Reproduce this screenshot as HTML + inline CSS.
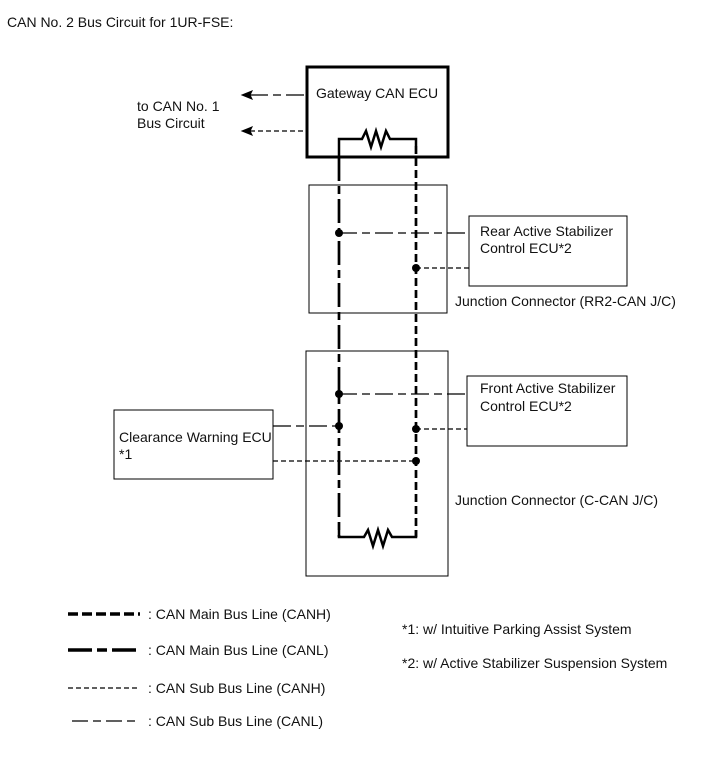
<!DOCTYPE html>
<html><head><meta charset="utf-8"><style>
html,body{margin:0;padding:0;background:#fff;}
svg{display:block;}
text{font-family:"Liberation Sans",sans-serif;font-size:14px;fill:#111;}
</style></head><body>
<svg width="713" height="782" viewBox="0 0 713 782" xmlns="http://www.w3.org/2000/svg">
<text x="7" y="27">CAN No. 2 Bus Circuit for 1UR-FSE:</text>
<!-- Gateway -->
<rect x="307" y="67" width="141" height="90" fill="none" stroke="#000" stroke-width="3"/>
<text x="316" y="98">Gateway CAN ECU</text>
<text x="137" y="111">to CAN No. 1</text>
<text x="137" y="128">Bus Circuit</text>
<line x1="250" y1="95" x2="307" y2="95" stroke="#000" stroke-width="1.2" stroke-dasharray="18 5 8 5"/>
<line x1="250" y1="131" x2="307" y2="131" stroke="#000" stroke-width="1.2" stroke-dasharray="5 3"/>
<polygon points="252,91 242,95 252,99 250,95" fill="#000" stroke="#000" stroke-width="1"/>
<polygon points="252,127 242,131 252,135 250,131" fill="#000" stroke="#000" stroke-width="1"/>
<!-- resistor top -->
<polyline points="339,157 339,139 362,139 366,131 371,147 376,131 381,147 386,131 390,139 416,139 416,146" fill="none" stroke="#000" stroke-width="2.5"/>
<!-- JC1 -->
<rect x="309" y="185" width="138" height="128" fill="none" stroke="#000" stroke-width="1"/>
<text x="455" y="306">Junction Connector (RR2-CAN J/C)</text>
<!-- JC2 -->
<rect x="306" y="351" width="142" height="225" fill="none" stroke="#000" stroke-width="1"/>
<text x="455" y="505">Junction Connector (C-CAN J/C)</text>
<!-- main buses -->
<line x1="339" y1="157" x2="339" y2="537" stroke="#000" stroke-width="2.7" stroke-dasharray="24 5 8 5"/>
<line x1="416" y1="146" x2="416" y2="537" stroke="#000" stroke-width="2.7" stroke-dasharray="8 4"/>
<polyline points="339,530 339,537 364,537 368,530 373,546 378,530 383,546 388,530 392,537 416,537 416,530" fill="none" stroke="#000" stroke-width="2.5"/>
<!-- Rear ECU -->
<rect x="469" y="216" width="158" height="70" fill="none" stroke="#000" stroke-width="1"/>
<text x="480" y="236">Rear Active Stabilizer</text>
<text x="480" y="253">Control ECU*2</text>
<line x1="339" y1="233" x2="469" y2="233" stroke="#000" stroke-width="1.2" stroke-dasharray="18 5 8 5"/>
<line x1="416" y1="268" x2="469" y2="268" stroke="#000" stroke-width="1.2" stroke-dasharray="5 3"/>
<!-- Front ECU -->
<rect x="467" y="376" width="160" height="70" fill="none" stroke="#000" stroke-width="1"/>
<text x="480" y="393">Front Active Stabilizer</text>
<text x="480" y="411">Control ECU*2</text>
<line x1="339" y1="394" x2="467" y2="394" stroke="#000" stroke-width="1.2" stroke-dasharray="18 5 8 5"/>
<line x1="416" y1="429" x2="467" y2="429" stroke="#000" stroke-width="1.2" stroke-dasharray="5 3"/>
<!-- Clearance -->
<rect x="114" y="410" width="159" height="69" fill="none" stroke="#000" stroke-width="1"/>
<text x="119" y="442">Clearance Warning ECU</text>
<text x="119" y="459">*1</text>
<line x1="273" y1="426" x2="339" y2="426" stroke="#000" stroke-width="1.2" stroke-dasharray="18 5 8 5"/>
<line x1="273" y1="461" x2="416" y2="461" stroke="#000" stroke-width="1.2" stroke-dasharray="5 3"/>
<!-- dots -->
<g fill="#000">
<circle cx="339" cy="233" r="4"/><circle cx="416" cy="268" r="4"/>
<circle cx="339" cy="394" r="4"/><circle cx="339" cy="426" r="4"/>
<circle cx="416" cy="429" r="4"/><circle cx="416" cy="461" r="4"/>
</g>
<!-- legend -->
<line x1="68" y1="614" x2="140" y2="614" stroke="#000" stroke-width="3.5" stroke-dasharray="10 4"/>
<line x1="68" y1="650" x2="140" y2="650" stroke="#000" stroke-width="3.5" stroke-dasharray="24 5 10 5"/>
<line x1="68" y1="688" x2="140" y2="688" stroke="#000" stroke-width="1.2" stroke-dasharray="5 3"/>
<line x1="72" y1="721" x2="140" y2="721" stroke="#000" stroke-width="1.2" stroke-dasharray="16 5 8 5"/>
<text x="148" y="619">: CAN Main Bus Line (CANH)</text>
<text x="148" y="655">: CAN Main Bus Line (CANL)</text>
<text x="148" y="693">: CAN Sub Bus Line (CANH)</text>
<text x="148" y="726">: CAN Sub Bus Line (CANL)</text>
<text x="402" y="634">*1: w/ Intuitive Parking Assist System</text>
<text x="402" y="668">*2: w/ Active Stabilizer Suspension System</text>
</svg>
</body></html>
